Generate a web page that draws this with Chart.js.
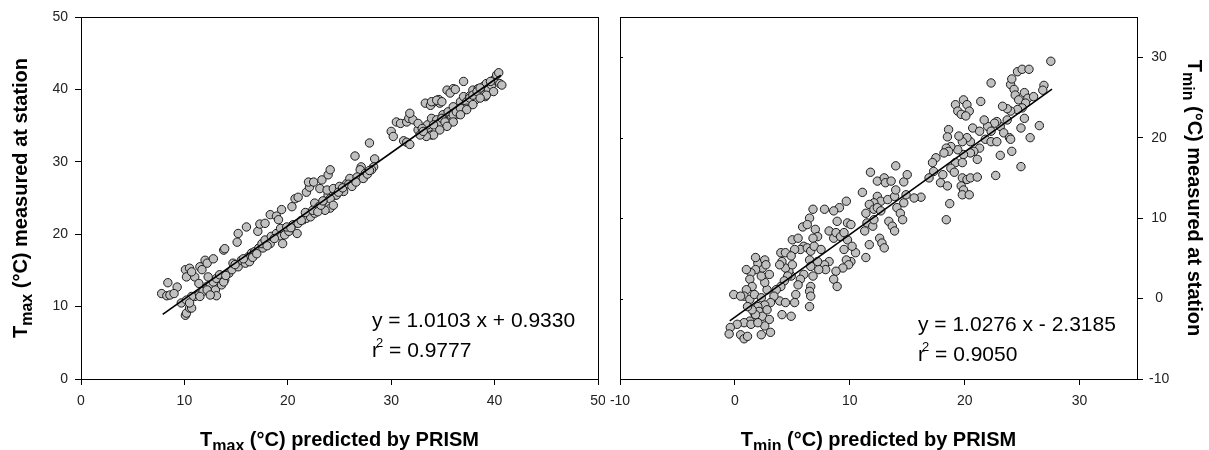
<!DOCTYPE html>
<html>
<head>
<meta charset="utf-8">
<script src="https://cdn.jsdelivr.net/npm/chart.js@4.4.0/dist/chart.umd.min.js"></script>
<style>
  body { margin: 0; background: #fff; width: 1209px; height: 450px; overflow: hidden; position: relative; }
  .panel { position: absolute; top: 0; height: 450px; }
</style>
</head>
<body>
<div class="panel" style="left:0;width:605px"><canvas id="tmaxChart"></canvas></div>
<div class="panel" style="left:605px;width:604px"><canvas id="tminChart"></canvas></div>
<script>
const tmaxPredicted = [
  7.8, 8.3, 8.6, 8.4, 9.3, 9.0, 10.1, 10.5, 10.2, 11.0, 10.7, 11.5, 12.0, 11.7, 12.2, 12.8,
  13.8, 13.9, 15.1, 15.2, 16.0, 17.1, 17.3, 17.8, 18.3, 18.9, 19.4, 19.1, 20.4, 20.7, 21.0, 21.8,
  22.1, 22.0, 22.5, 23.3, 23.9, 24.1,
  26.5, 27.9, 28.4, 28.3, 28.1, 27.1, 27.0, 27.5, 30.0, 30.2, 30.5, 30.9, 31.5, 31.7, 32.1, 31.8,
  33.3, 33.8, 34.2, 34.6, 34.7, 35.4, 36.0, 35.7, 37.0, 31.2, 31.5, 31.8,
  10.1, 10.2, 10.5, 10.4, 11.0, 11.4, 11.8, 12.2, 12.5, 13.0, 12.8, 13.1, 13.4, 13.9, 13.6, 14.3,
  14.6, 14.7, 15.2, 15.5, 15.9, 16.2, 16.5, 16.3, 16.8, 17.2, 17.6, 17.5, 17.8, 18.3, 18.4, 18.9,
  19.3, 19.4, 19.7, 20.1, 20.5, 20.9, 21.0, 21.5, 21.8, 22.2, 22.6, 23.0, 23.4, 23.9, 24.1, 23.6,
  24.3, 22.6, 10.7, 9.7, 11.4, 12.3, 13.1, 10.7, 19.5, 13.8, 12.2, 12.5, 11.5, 10.2, 10.5,
  14.0, 14.9, 15.7, 16.6, 17.0, 18.0, 18.7, 19.9, 20.3, 21.3, 21.7, 22.4, 22.9, 23.2, 24.6,
  23.1, 23.8, 24.4, 25.0, 25.7, 26.3, 26.0, 26.7, 24.7, 24.1, 25.4, 24.4, 23.4, 24.9, 25.3, 25.9,
  26.2, 26.6, 27.3, 27.7, 27.9,
  32.6, 33.1, 33.6, 33.9, 33.3, 33.5, 33.9, 34.4, 34.7, 35.4, 33.9, 34.4, 34.9, 36.2, 35.0, 35.5,
  36.0, 36.3, 36.7, 37.0, 37.3, 37.6, 37.9, 38.1, 38.4, 38.8, 38.9, 39.2, 39.4, 39.7, 39.9, 40.2,
  40.4, 40.5, 39.1, 37.3, 36.8, 35.8, 35.4, 32.6, 33.0, 34.1, 34.9, 35.2, 36.0, 36.3, 36.7, 37.6,
  37.9, 38.3, 38.6, 39.6, 40.7, 39.9, 39.2, 38.6, 37.9, 37.3, 36.7, 36.0, 35.4, 34.7, 34.1, 33.4,
  32.8, 33.1
];
const tmaxMeasured = [
  11.8, 11.5, 11.6, 13.3, 12.7, 11.8, 15.1, 15.3, 14.1, 14.1, 14.8, 15.5, 16.4, 15.1, 16.0, 16.6,
  17.8, 18.0, 18.9, 20.1, 21.0, 20.4, 21.4, 21.5, 22.7, 22.5, 23.4, 22.0, 23.8, 24.9, 25.1, 25.8,
  26.5, 27.2, 27.2, 27.5, 28.2, 28.9,
  30.8, 32.6, 30.4, 29.3, 28.9, 29.3, 28.9, 28.4, 34.2, 33.5, 35.5, 35.3, 35.5, 36.0, 35.8, 36.7,
  38.1, 37.8, 38.3, 38.6, 38.1, 39.9, 40.1, 39.5, 41.1, 32.9, 32.7, 32.4,
  8.8, 9.1, 9.8, 10.7, 11.4, 11.6, 12.1, 12.8, 13.0, 12.3, 13.4, 13.9, 14.4, 13.7, 13.0, 14.6,
  15.1, 16.0, 15.5, 16.4, 16.0, 16.9, 17.4, 16.2, 17.6, 18.1, 18.1, 18.7, 19.2, 18.7, 19.7, 20.1,
  20.8, 19.7, 19.9, 20.4, 21.3, 20.1, 21.5, 22.0, 22.2, 22.4, 24.3, 23.8, 24.5, 25.4, 23.6, 23.3,
  25.9, 22.9, 11.4, 10.5, 13.2, 14.1, 11.5, 9.8, 18.7, 13.4, 12.3, 11.6, 11.4, 10.9, 10.5,
  14.3, 15.8, 16.6, 16.8, 17.3, 18.4, 19.4, 21.0, 20.9, 21.9, 23.0, 23.3, 23.1, 24.0, 25.4,
  26.3, 26.1, 26.3, 26.6, 27.0, 27.3, 27.7, 27.9, 25.4, 24.9, 25.9, 24.0, 24.6, 25.8, 26.4, 26.9,
  26.6, 27.2, 27.7, 28.3, 28.8,
  34.4, 34.1, 34.7, 33.7, 33.7, 35.1, 36.0, 35.8, 35.4, 35.1, 38.3, 38.5, 38.3, 40.0, 36.5, 36.9,
  37.6, 36.5, 38.3, 39.0, 38.3, 39.1, 39.9, 38.5, 40.1, 39.4, 40.4, 40.8, 39.9, 40.6, 41.3, 42.0,
  42.3, 40.8, 39.0, 37.4, 36.9, 36.0, 35.5, 35.3, 34.6, 35.1, 36.0, 35.5, 36.5, 36.9, 37.4, 38.8,
  39.2, 39.7, 40.2, 41.1, 40.6, 39.7, 39.2, 38.8, 37.9, 37.2, 36.5, 35.5, 34.9, 34.4, 33.7, 33.5,
  33.7, 34.2
];

// Tmin: PRISM prediction (x) vs station measurement (y)
const tminPredicted = [
  14.0, 11.8, 12.4, 13.0, 13.1, 13.6, 14.7, 15.0, 11.1, 12.4, 12.7, 13.3, 13.9, 14.0, 14.7, 14.9,
  14.1, 14.4, 14.6, 13.4, 13.7, 13.9, 12.1, 11.7, 12.1, 12.4, 12.7, 11.4, 11.5, 12.0, 12.1, 11.3,
  11.7, 12.6, 12.8, 13.0, 11.4, 10.5, 10.1, 9.7, 9.1, 8.6, 7.8, 6.8, 6.5, 5.9, 6.3, 7.0,
  7.2, 6.8, 6.0, 5.7, 5.2, 5.0, 5.5, 6.3, 6.6, 6.9, 7.5, 8.2, 8.6, 8.9, 8.8, 9.2,
  9.5, 9.8, 10.1, 9.8, 10.2, 9.5, 9.7, 9.9, 9.4, 8.8, 8.6, 8.9, 8.2, 7.8, 7.9, 7.3,
  7.2, 6.5, 6.6, 6.8, 6.6, 6.5, 6.6, 6.5, 6.0, 5.7, 5.5, 5.3, 5.2, 4.9, 4.7, 4.4,
  4.1, 3.9, 4.0, 4.4, 4.9, 5.0, 4.6, 4.3, 4.0, 3.9, 4.4, 4.1, 4.9, 3.6, 3.4, 3.1,
  2.8, 2.6, 2.3, 2.4, 2.0, 1.8, 2.6, 2.7, 3.0, 1.8, 1.4, 1.0, 1.3, 1.5, 1.0, 0.8,
  1.3, -0.1, 0.5, 1.7, 2.3, 2.6, 2.0, 1.7, 2.1, 2.4, 2.8, 3.0, 2.6, 2.3, 3.1, 1.7,
  1.3, 0.8, 0.2, -0.4, -0.5, 0.5, 0.8, 1.1, 1.4, 2.0, 1.8, 1.5, 1.1,
  27.5, 24.6, 25.0, 25.6, 22.3, 24.0, 24.1, 24.3, 24.4, 24.7, 25.2, 25.5, 26.0, 26.9, 26.8, 25.3,
  25.0, 24.6, 24.0, 23.7, 23.3, 25.2, 26.5, 25.7, 24.9, 24.1, 24.9, 23.1, 22.7, 23.7, 23.1, 22.8,
  22.6, 22.0, 22.3, 21.7, 21.4, 19.2, 19.4, 19.7, 19.9, 20.2, 20.4, 20.1, 20.7, 21.3, 20.5, 20.2,
  19.8, 19.5, 18.6, 18.5, 21.8, 22.3, 22.8, 23.4, 23.9, 24.0, 21.3, 20.8, 21.1, 20.5, 19.9, 19.4,
  18.8, 18.4, 18.6, 18.2, 17.5, 17.2, 19.2, 19.8, 18.8, 19.1, 18.1, 17.9, 18.5, 17.3, 16.9, 19.8,
  20.2, 20.5, 21.1, 19.7, 19.9, 19.8, 20.4, 18.7, 18.4, 16.2, 15.6
];
const tminMeasured = [
  16.5, 15.7, 14.6, 15.0, 14.4, 14.6, 14.5, 15.4, 13.2, 12.7, 12.1, 12.3, 12.7, 13.5, 11.9, 12.9,
  11.3, 10.6, 9.8, 9.6, 9.0, 8.4, 11.9, 11.7, 11.1, 11.3, 10.9, 10.6, 9.4, 9.0, 9.8, 8.4,
  6.7, 7.5, 6.9, 6.3, 5.1, 5.7, 4.6, 12.1, 11.3, 10.9, 11.1, 11.1, 10.0, 8.9, 9.2, 8.6,
  7.7, 7.5, 6.5, 6.1, 6.1, 7.3, 7.5, 6.3, 5.9, 6.5, 6.1, 8.4, 7.5, 9.6, 8.2, 7.7,
  8.2, 9.4, 9.2, 7.3, 6.5, 6.1, 4.8, 4.2, 3.8, 3.4, 2.4, 1.5, 4.6, 4.2, 3.6, 3.6,
  4.6, 4.8, 4.0, 2.8, 1.5, 0.9, 0.3, -1.0, 3.0, 2.4, 1.7, 0.5, -0.5, 2.8, 3.4, 3.8,
  4.6, 4.2, 5.7, 5.7, 5.3, 4.2, 2.8, 2.2, 1.5, -0.3, -0.5, -2.0, -2.2, 1.1, 0.3, -0.5,
  1.1, 2.0, 2.8, 3.8, 4.4, 5.1, 4.8, 4.2, 3.0, 3.6, 3.2, 3.6, 2.4, 1.5, 1.1, 0.3,
  -0.1, 0.5, 0.3, 0.5, 0.1, -0.8, -1.0, -1.8, -1.6, -2.2, -1.4, -2.6, -3.4, -4.5, -4.2, -2.6,
  -2.8, -3.0, -3.2, -3.6, -4.4, -4.5, -5.0, -4.7, -3.2, -3.0, -2.0, -1.4, -1.0,
  29.5, 28.2, 28.5, 28.5, 26.8, 26.6, 27.3, 26.0, 25.3, 24.7, 25.6, 24.9, 25.1, 26.5, 25.9, 24.3,
  23.7, 23.5, 23.3, 23.6, 23.9, 22.4, 21.5, 20.0, 21.2, 18.3, 16.4, 17.8, 15.3, 22.2, 21.4, 22.0,
  21.8, 21.4, 20.8, 22.2, 24.5, 24.1, 23.3, 22.9, 24.7, 24.1, 23.3, 22.7, 21.2, 20.8, 19.5, 20.0,
  19.5, 20.2, 21.0, 20.1, 19.8, 19.5, 19.5, 20.6, 20.0, 19.8, 18.7, 18.3, 17.3, 18.1, 17.9, 18.5,
  18.9, 18.7, 18.3, 18.1, 17.5, 16.9, 16.9, 16.9, 16.2, 15.7, 15.4, 14.4, 14.0, 15.8, 15.0, 15.0,
  14.8, 15.0, 15.1, 14.0, 13.5, 12.9, 12.9, 11.8, 9.8, 12.6, 12.5
];

// axes
const tmaxXTicks = [0, 10, 20, 30, 40, 50];
const tmaxYTicks = [0, 10, 20, 30, 40, 50];
const tminXTicks = [-10, 0, 10, 20, 30];
const tminYTicks = [-10, 0, 10, 20, 30];

// regression lines as printed on the figure
const tmaxFit = { slope: 1.0103, intercept: 0.9330, from: 7.9, to: 40.6, r2: '0.9777' };
const tminFit = { slope: 1.0276, intercept: -2.3185, from: -0.45, to: 27.6, r2: '0.9050' };

const FONT = "Arial, 'Liberation Sans', sans-serif";

function toPoints(xs, ys) {
  return xs.map((x, i) => ({ x: x, y: ys[i] }));
}

function fitPoints(fit) {
  return [fit.from, fit.to].map(x => ({ x: x, y: fit.slope * x + fit.intercept }));
}

function xAxis(min, max, ticks) {
  return {
    type: 'linear', min: min, max: max,
    afterBuildTicks: s => { s.ticks = ticks.map(v => ({ value: v })); },
    afterFit: s => { s.height = 71; s.paddingLeft = 0; s.paddingRight = 0; },
    ticks: { font: { family: FONT, size: 14 }, color: '#222', padding: 8, maxRotation: 0 },
    grid: { drawOnChartArea: false, drawTicks: true, tickLength: 6, color: '#000' },
    border: { display: true, color: '#000', width: 1 }
  };
}

function yAxis(min, max, ticks, position, width) {
  return {
    type: 'linear', min: min, max: max, position: position,
    afterBuildTicks: s => { s.ticks = ticks.map(v => ({ value: v })); },
    afterFit: s => { s.width = width; s.paddingTop = 0; s.paddingBottom = 0; },
    ticks: {
      font: { family: FONT, size: 14 }, color: '#222',
      padding: position === 'left' ? 7 : 6,
      crossAlign: position === 'left' ? 'near' : 'center'
    },
    grid: { drawOnChartArea: false, drawTicks: true, tickLength: 6, color: '#000' },
    border: { display: true, color: '#000', width: 1 }
  };
}

// bold text built from parts (main text + subscript), centred on the origin after rotation
function richText(ctx, parts, angle) {
  ctx.save();
  ctx.rotate(angle);
  let total = 0;
  parts.forEach(p => {
    ctx.font = 'bold ' + p.size + 'px ' + FONT;
    p.w = ctx.measureText(p.t).width;
    total += p.w;
  });
  let x = -total / 2;
  ctx.fillStyle = '#000';
  ctx.textBaseline = 'alphabetic';
  ctx.textAlign = 'left';
  parts.forEach(p => {
    ctx.font = 'bold ' + p.size + 'px ' + FONT;
    ctx.fillText(p.t, x, p.dy);
    x += p.w;
  });
  ctx.restore();
}

function equation(ctx, fit, x, baseline) {
  ctx.save();
  ctx.fillStyle = '#000';
  ctx.textAlign = 'left';
  ctx.textBaseline = 'alphabetic';
  ctx.font = '21px ' + FONT;
  const sign = fit.intercept < 0 ? '-' : '+';
  ctx.fillText('y = ' + fit.slope.toFixed(4) + ' x ' + sign + ' ' + Math.abs(fit.intercept).toFixed(4), x, baseline);
  const b2 = baseline + 30;
  ctx.fillText('r', x, b2);
  const rw = ctx.measureText('r').width;
  ctx.font = '13px ' + FONT;
  ctx.fillText('2', x + rw - 3, b2 - 10);
  const sw = ctx.measureText('2').width;
  ctx.font = '21px ' + FONT;
  ctx.fillText(' = ' + fit.r2, x + rw - 3 + sw, b2);
  ctx.restore();
}

function makeChart(id, xs, ys, fit, xTicks, yTicks, xr, yr, side, titles) {
  const plugin = {
    id: 'decor',
    afterDraw(chart) {
      const ctx = chart.ctx;
      const a = chart.chartArea;
      ctx.save();
      ctx.strokeStyle = '#000';
      ctx.lineWidth = 1;
      ctx.strokeRect(Math.round(a.left) + 0.5, Math.round(a.top) + 0.5, Math.round(a.right - a.left), Math.round(a.bottom - a.top));
      if (side === 'right') {
        // small inner ticks on the unlabeled left edge
        const sy = chart.scales.y;
        ctx.beginPath();
        sy.ticks.forEach(t => {
          const py = Math.round(sy.getPixelForValue(t.value)) + 0.5;
          ctx.moveTo(a.left, py);
          ctx.lineTo(a.left + 3, py);
        });
        ctx.stroke();
      }
      ctx.restore();

      ctx.save();
      ctx.translate((a.left + a.right) / 2, 446);
      richText(ctx, titles.x, 0);
      ctx.restore();

      ctx.save();
      ctx.translate(titles.yX, (a.top + a.bottom) / 2);
      richText(ctx, titles.y, side === 'left' ? -Math.PI / 2 : Math.PI / 2);
      ctx.restore();

      equation(ctx, fit, titles.eqX, titles.eqY);
    }
  };
  return new Chart(document.getElementById(id), {
    type: 'scatter',
    data: {
      datasets: [
        {
          type: 'line', data: fitPoints(fit), borderColor: '#000', borderWidth: 1.6,
          pointRadius: 0, fill: false, tension: 0
        },
        {
          data: toPoints(xs, ys), pointRadius: 4.2, pointBackgroundColor: '#c0c0c0',
          pointBorderColor: '#1a1a1a', pointBorderWidth: 1
        }
      ]
    },
    options: {
      responsive: true, maintainAspectRatio: false, animation: false, events: [],
      layout: { padding: side === 'left' ? { top: 17, right: 7, left: 0, bottom: 0 } : { top: 17, right: 0, left: 15, bottom: 0 } },
      plugins: { legend: { display: false }, tooltip: { enabled: false } },
      scales: {
        x: xAxis(xr[0], xr[1], xTicks),
        y: yAxis(yr[0], yr[1], yTicks, side, side === 'left' ? 81 : 72)
      }
    },
    plugins: [plugin]
  });
}

makeChart('tmaxChart', tmaxPredicted, tmaxMeasured, tmaxFit, tmaxXTicks, tmaxYTicks, [0, 50], [0, 50], 'left', {
  x: [{ t: 'T', size: 20, dy: 0 }, { t: 'max', size: 16, dy: 5 }, { t: ' (°C) predicted by PRISM', size: 20, dy: 0 }],
  y: [{ t: 'T', size: 20, dy: 0 }, { t: 'max', size: 16, dy: 5 }, { t: ' (°C) measured at station', size: 20, dy: 0 }],
  yX: 27, eqX: 372, eqY: 327
});

makeChart('tminChart', tminPredicted, tminMeasured, tminFit, tminXTicks, tminYTicks, [-10, 35], [-10, 35], 'right', {
  x: [{ t: 'T', size: 20, dy: 0 }, { t: 'min', size: 16, dy: 5 }, { t: ' (°C) predicted by PRISM', size: 20, dy: 0 }],
  y: [{ t: 'T', size: 20, dy: 0 }, { t: 'min', size: 16, dy: 5 }, { t: ' (°C) measured at station', size: 20, dy: 0 }],
  yX: 583, eqX: 313, eqY: 331
});
</script>
</body>
</html>
